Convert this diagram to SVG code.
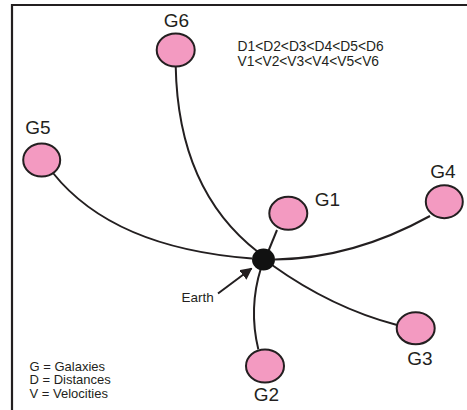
<svg xmlns="http://www.w3.org/2000/svg" width="467" height="410" viewBox="0 0 467 410">
  <style>
    .frame { fill: none; stroke: #231f20; stroke-width: 2.2; }
    .link { fill: none; stroke: #231f20; stroke-width: 2; }
    .galaxy { fill: #f39ac1; stroke: #231f20; stroke-width: 2; }
    .earth { fill: #111; }
    .lbl { font-family: "Liberation Sans", Arial, sans-serif; fill: #231f20; }
    .big { font-size: 19px; text-anchor: middle; }
    .note { font-size: 13.8px; }
    .key { font-size: 13px; }
  </style>
  <defs>
    <marker id="arrowhead" viewBox="0 0 10 10" refX="9" refY="5" markerWidth="6" markerHeight="6" orient="auto">
      <path d="M0,0 L10,5 L0,10 Z" fill="#231f20"/>
    </marker>
  </defs>

  <rect width="467" height="410" fill="#ffffff"/>
  <path class="frame" d="M12,410 V5 H467"/>

  <g id="connectors">
    <path class="link" d="M175.7,66 Q178,190 258,252"/>
    <path class="link" d="M53,173 Q113,248 252,258.5"/>
    <path class="link" d="M430,216 Q353,258.5 275,259.5"/>
    <path class="link" d="M277,230 L268,252"/>
    <path class="link" d="M397,325 Q332,308 272,265"/>
    <path class="link" d="M258.3,349.3 Q248.4,308 261,268"/>
    <path class="link" d="M218,293.5 L251.5,268.5" marker-end="url(#arrowhead)"/>
  </g>

  <g id="earth">
    <ellipse class="earth" cx="263.5" cy="259.5" rx="11.5" ry="11"/>
    <text class="lbl" x="181.5" y="301.5" font-size="13.5">Earth</text>
  </g>

  <g id="g1">
    <ellipse class="galaxy" cx="288.3" cy="213.3" rx="19" ry="16.5"/>
    <text class="lbl big" x="327.5" y="205.5">G1</text>
  </g>
  <g id="g2">
    <ellipse class="galaxy" cx="265" cy="366" rx="19" ry="16.5"/>
    <text class="lbl big" x="266.5" y="401">G2</text>
  </g>
  <g id="g3">
    <ellipse class="galaxy" cx="415.7" cy="328.3" rx="19" ry="16"/>
    <text class="lbl big" x="420" y="365">G3</text>
  </g>
  <g id="g4">
    <ellipse class="galaxy" cx="444.3" cy="201.7" rx="18.5" ry="16.5"/>
    <text class="lbl big" x="443" y="178">G4</text>
  </g>
  <g id="g5">
    <ellipse class="galaxy" cx="41.7" cy="160" rx="18.5" ry="16.5"/>
    <text class="lbl big" x="38" y="134">G5</text>
  </g>
  <g id="g6">
    <ellipse class="galaxy" cx="175.7" cy="50" rx="19" ry="16.5"/>
    <text class="lbl big" x="176.5" y="26.5">G6</text>
  </g>

  <g id="relations">
    <text class="lbl note" x="237.5" y="50.5">D1&lt;D2&lt;D3&lt;D4&lt;D5&lt;D6</text>
    <text class="lbl note" x="237.5" y="65.5">V1&lt;V2&lt;V3&lt;V4&lt;V5&lt;V6</text>
  </g>

  <g id="legend">
    <text class="lbl key" x="29.5" y="370.5">G = Galaxies</text>
    <text class="lbl key" x="29.5" y="384">D = Distances</text>
    <text class="lbl key" x="29.5" y="397.5">V = Velocities</text>
  </g>
</svg>
